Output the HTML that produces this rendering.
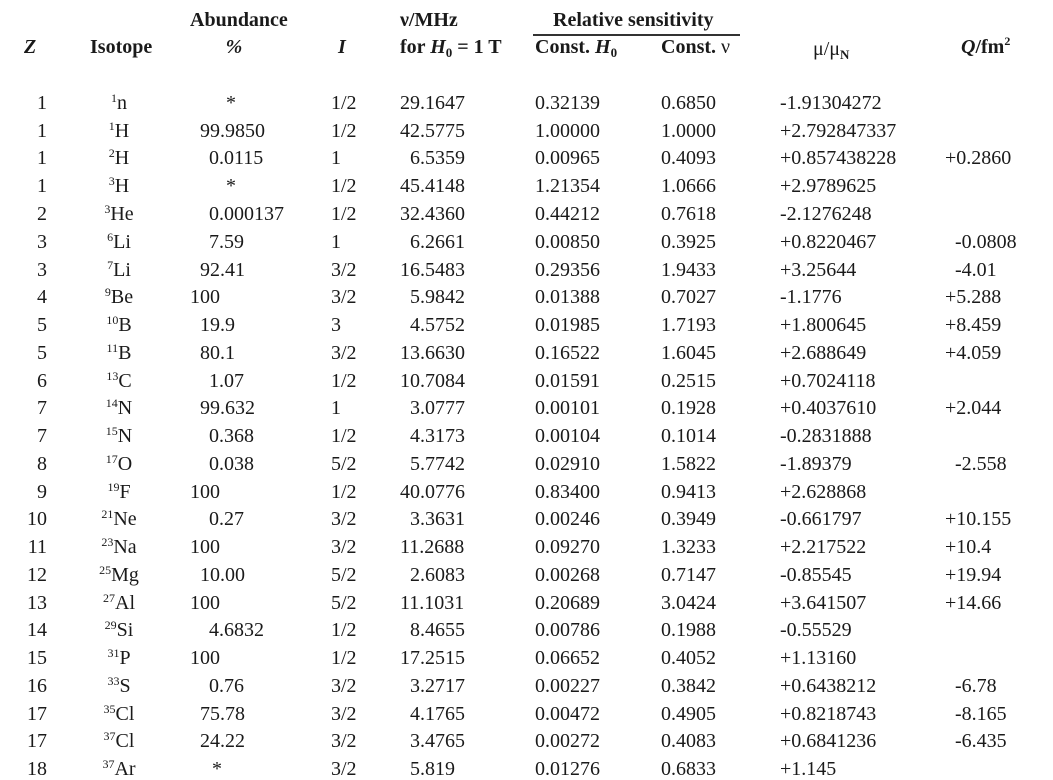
<!DOCTYPE html>
<html><head><meta charset="utf-8"><style>
html,body{margin:0;padding:0;background:#fff;}
body{width:1053px;height:777px;position:relative;overflow:hidden;font-family:"Liberation Serif","Times New Roman",Times,serif;font-size:20px;color:#1a1a1a;}
.r{position:absolute;left:0;width:1053px;height:22px;}
.r span{position:absolute;top:0;line-height:22px;white-space:nowrap;}
.z{right:1006px;text-align:right;}
.iso{left:69px;width:100px;text-align:center;}
sup{font-size:12px;vertical-align:7px;line-height:0;}
.h{position:absolute;font-weight:bold;line-height:22px;white-space:nowrap;}
sub{font-size:13px;vertical-align:-4px;line-height:0;}
</style></head><body>
<div class="h" style="left:190px;top:9px;width:88px;text-align:center">Abundance</div>
<div class="h" style="left:190px;top:36px;width:88px;text-align:center;font-style:italic">%</div>
<div class="h" style="left:24px;top:36px;font-style:italic">Z</div>
<div class="h" style="left:90px;top:36px">Isotope</div>
<div class="h" style="left:338px;top:36px;font-style:italic">I</div>
<div class="h" style="left:400px;top:9px">ν/MHz</div>
<div class="h" style="left:400px;top:36px">for <i>H</i><sub>0</sub> = 1 T</div>
<div class="h" style="left:553px;top:9px">Relative sensitivity</div>
<div style="position:absolute;left:533px;top:34px;width:207px;height:1.5px;background:#333"></div>
<div class="h" style="left:535px;top:36px">Const. <i>H</i><sub>0</sub></div>
<div class="h" style="left:661px;top:36px">Const. <span style="font-weight:normal">ν</span></div>
<div class="h" style="left:813px;top:38px;font-weight:normal">μ/μ<sub style="font-weight:bold">N</sub></div>
<div class="h" style="left:961px;top:36px"><i>Q</i>/fm<sup style="vertical-align:8px">2</sup></div>

<div class="r" style="top:92px"><span class="z">1</span><span class="iso"><sup>1</sup>n</span><span style="left:226px">*</span><span style="left:331px">1/2</span><span style="left:400px">29.1647</span><span style="left:535px">0.32139</span><span style="left:661px">0.6850</span><span style="left:780px">-1.91304272</span></div>
<div class="r" style="top:120px"><span class="z">1</span><span class="iso"><sup>1</sup>H</span><span style="left:200px">99.9850</span><span style="left:331px">1/2</span><span style="left:400px">42.5775</span><span style="left:535px">1.00000</span><span style="left:661px">1.0000</span><span style="left:780px">+2.792847337</span></div>
<div class="r" style="top:147px"><span class="z">1</span><span class="iso"><sup>2</sup>H</span><span style="left:209px">0.0115</span><span style="left:331px">1</span><span style="left:410px">6.5359</span><span style="left:535px">0.00965</span><span style="left:661px">0.4093</span><span style="left:780px">+0.857438228</span><span style="left:945px">+0.2860</span></div>
<div class="r" style="top:175px"><span class="z">1</span><span class="iso"><sup>3</sup>H</span><span style="left:226px">*</span><span style="left:331px">1/2</span><span style="left:400px">45.4148</span><span style="left:535px">1.21354</span><span style="left:661px">1.0666</span><span style="left:780px">+2.9789625</span></div>
<div class="r" style="top:203px"><span class="z">2</span><span class="iso"><sup>3</sup>He</span><span style="left:209px">0.000137</span><span style="left:331px">1/2</span><span style="left:400px">32.4360</span><span style="left:535px">0.44212</span><span style="left:661px">0.7618</span><span style="left:780px">-2.1276248</span></div>
<div class="r" style="top:231px"><span class="z">3</span><span class="iso"><sup>6</sup>Li</span><span style="left:209px">7.59</span><span style="left:331px">1</span><span style="left:410px">6.2661</span><span style="left:535px">0.00850</span><span style="left:661px">0.3925</span><span style="left:780px">+0.8220467</span><span style="left:955px">-0.0808</span></div>
<div class="r" style="top:259px"><span class="z">3</span><span class="iso"><sup>7</sup>Li</span><span style="left:200px">92.41</span><span style="left:331px">3/2</span><span style="left:400px">16.5483</span><span style="left:535px">0.29356</span><span style="left:661px">1.9433</span><span style="left:780px">+3.25644</span><span style="left:955px">-4.01</span></div>
<div class="r" style="top:286px"><span class="z">4</span><span class="iso"><sup>9</sup>Be</span><span style="left:190px">100</span><span style="left:331px">3/2</span><span style="left:410px">5.9842</span><span style="left:535px">0.01388</span><span style="left:661px">0.7027</span><span style="left:780px">-1.1776</span><span style="left:945px">+5.288</span></div>
<div class="r" style="top:314px"><span class="z">5</span><span class="iso"><sup>10</sup>B</span><span style="left:200px">19.9</span><span style="left:331px">3</span><span style="left:410px">4.5752</span><span style="left:535px">0.01985</span><span style="left:661px">1.7193</span><span style="left:780px">+1.800645</span><span style="left:945px">+8.459</span></div>
<div class="r" style="top:342px"><span class="z">5</span><span class="iso"><sup>11</sup>B</span><span style="left:200px">80.1</span><span style="left:331px">3/2</span><span style="left:400px">13.6630</span><span style="left:535px">0.16522</span><span style="left:661px">1.6045</span><span style="left:780px">+2.688649</span><span style="left:945px">+4.059</span></div>
<div class="r" style="top:370px"><span class="z">6</span><span class="iso"><sup>13</sup>C</span><span style="left:209px">1.07</span><span style="left:331px">1/2</span><span style="left:400px">10.7084</span><span style="left:535px">0.01591</span><span style="left:661px">0.2515</span><span style="left:780px">+0.7024118</span></div>
<div class="r" style="top:397px"><span class="z">7</span><span class="iso"><sup>14</sup>N</span><span style="left:200px">99.632</span><span style="left:331px">1</span><span style="left:410px">3.0777</span><span style="left:535px">0.00101</span><span style="left:661px">0.1928</span><span style="left:780px">+0.4037610</span><span style="left:945px">+2.044</span></div>
<div class="r" style="top:425px"><span class="z">7</span><span class="iso"><sup>15</sup>N</span><span style="left:209px">0.368</span><span style="left:331px">1/2</span><span style="left:410px">4.3173</span><span style="left:535px">0.00104</span><span style="left:661px">0.1014</span><span style="left:780px">-0.2831888</span></div>
<div class="r" style="top:453px"><span class="z">8</span><span class="iso"><sup>17</sup>O</span><span style="left:209px">0.038</span><span style="left:331px">5/2</span><span style="left:410px">5.7742</span><span style="left:535px">0.02910</span><span style="left:661px">1.5822</span><span style="left:780px">-1.89379</span><span style="left:955px">-2.558</span></div>
<div class="r" style="top:481px"><span class="z">9</span><span class="iso"><sup>19</sup>F</span><span style="left:190px">100</span><span style="left:331px">1/2</span><span style="left:400px">40.0776</span><span style="left:535px">0.83400</span><span style="left:661px">0.9413</span><span style="left:780px">+2.628868</span></div>
<div class="r" style="top:508px"><span class="z">10</span><span class="iso"><sup>21</sup>Ne</span><span style="left:209px">0.27</span><span style="left:331px">3/2</span><span style="left:410px">3.3631</span><span style="left:535px">0.00246</span><span style="left:661px">0.3949</span><span style="left:780px">-0.661797</span><span style="left:945px">+10.155</span></div>
<div class="r" style="top:536px"><span class="z">11</span><span class="iso"><sup>23</sup>Na</span><span style="left:190px">100</span><span style="left:331px">3/2</span><span style="left:400px">11.2688</span><span style="left:535px">0.09270</span><span style="left:661px">1.3233</span><span style="left:780px">+2.217522</span><span style="left:945px">+10.4</span></div>
<div class="r" style="top:564px"><span class="z">12</span><span class="iso"><sup>25</sup>Mg</span><span style="left:200px">10.00</span><span style="left:331px">5/2</span><span style="left:410px">2.6083</span><span style="left:535px">0.00268</span><span style="left:661px">0.7147</span><span style="left:780px">-0.85545</span><span style="left:945px">+19.94</span></div>
<div class="r" style="top:592px"><span class="z">13</span><span class="iso"><sup>27</sup>Al</span><span style="left:190px">100</span><span style="left:331px">5/2</span><span style="left:400px">11.1031</span><span style="left:535px">0.20689</span><span style="left:661px">3.0424</span><span style="left:780px">+3.641507</span><span style="left:945px">+14.66</span></div>
<div class="r" style="top:619px"><span class="z">14</span><span class="iso"><sup>29</sup>Si</span><span style="left:209px">4.6832</span><span style="left:331px">1/2</span><span style="left:410px">8.4655</span><span style="left:535px">0.00786</span><span style="left:661px">0.1988</span><span style="left:780px">-0.55529</span></div>
<div class="r" style="top:647px"><span class="z">15</span><span class="iso"><sup>31</sup>P</span><span style="left:190px">100</span><span style="left:331px">1/2</span><span style="left:400px">17.2515</span><span style="left:535px">0.06652</span><span style="left:661px">0.4052</span><span style="left:780px">+1.13160</span></div>
<div class="r" style="top:675px"><span class="z">16</span><span class="iso"><sup>33</sup>S</span><span style="left:209px">0.76</span><span style="left:331px">3/2</span><span style="left:410px">3.2717</span><span style="left:535px">0.00227</span><span style="left:661px">0.3842</span><span style="left:780px">+0.6438212</span><span style="left:955px">-6.78</span></div>
<div class="r" style="top:703px"><span class="z">17</span><span class="iso"><sup>35</sup>Cl</span><span style="left:200px">75.78</span><span style="left:331px">3/2</span><span style="left:410px">4.1765</span><span style="left:535px">0.00472</span><span style="left:661px">0.4905</span><span style="left:780px">+0.8218743</span><span style="left:955px">-8.165</span></div>
<div class="r" style="top:730px"><span class="z">17</span><span class="iso"><sup>37</sup>Cl</span><span style="left:200px">24.22</span><span style="left:331px">3/2</span><span style="left:410px">3.4765</span><span style="left:535px">0.00272</span><span style="left:661px">0.4083</span><span style="left:780px">+0.6841236</span><span style="left:955px">-6.435</span></div>
<div class="r" style="top:758px"><span class="z">18</span><span class="iso"><sup>37</sup>Ar</span><span style="left:212px">*</span><span style="left:331px">3/2</span><span style="left:410px">5.819</span><span style="left:535px">0.01276</span><span style="left:661px">0.6833</span><span style="left:780px">+1.145</span></div>
</body></html>
